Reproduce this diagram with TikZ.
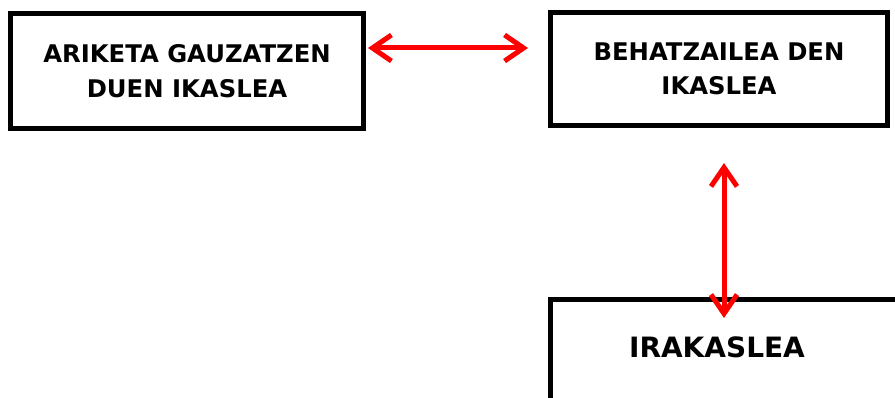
\documentclass[tikz,border=0pt]{standalone}
\usepackage{fontspec}
\setsansfont{DejaVu Sans}
\usepackage{tikz}
\usetikzlibrary{arrows.meta}
\definecolor{boxline}{HTML}{000000}
\definecolor{linkred}{HTML}{FF0000}
\tikzset{
  box/.style={draw=boxline, line width=5pt, inner sep=0pt, align=center,
    font=\sffamily\bfseries\fontsize{24.3}{34.5}\selectfont},
  lab/.style={inner sep=0pt, font=\sffamily\bfseries\fontsize{28}{34}\selectfont},
  barb/.tip={Straight Barb[length=19pt, width=26pt]},
  link/.style={draw=linkred, line width=5pt, line cap=round, line join=round, {barb}-{barb}},
}

\begin{document}
\begin{tikzpicture}[x=1pt, y=-1pt]
  \useasboundingbox (0,0) rectangle (895,398);

  \node[box, minimum width=353pt, minimum height=115pt] (ikaslea) at (187,71)
    {ARIKETA GAUZATZEN\\DUEN IKASLEA};
  \node[box, minimum width=337pt, minimum height=113pt] (behatz) at (719,69)
    {BEHATZAILEA DEN\\IKASLEA};

  % bottom box runs off the page
  \draw[draw=boxline, line width=5pt] (550.5,299.5) rectangle (920,430);
  \node[lab] (irakaslea) at (717,347) {IRAKASLEA};

  \coordinate (hleft) at (368,48);
  \coordinate (hright) at (528,48);
  \coordinate (vtop) at (724,163);
  \coordinate (vbot) at (724,318);

  \draw[link] (hleft) -- (hright);
  \draw[link] (vtop) -- (vbot);
\end{tikzpicture}
\end{document}
